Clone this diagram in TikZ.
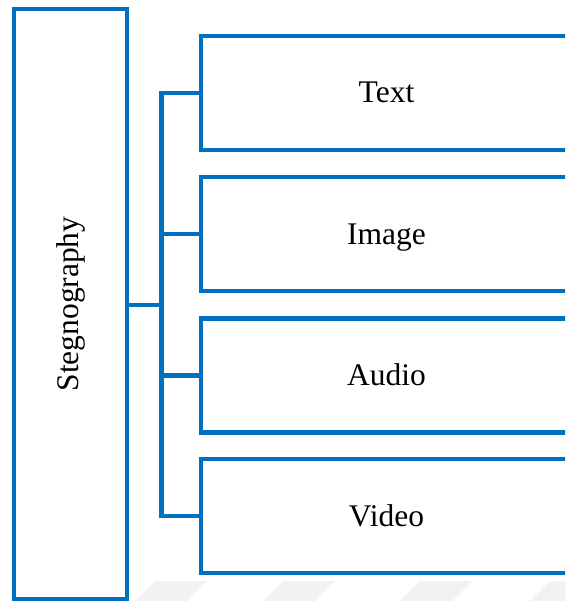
\documentclass[tikz,border=0pt]{standalone}
\usepackage{fontspec}
\setmainfont{Liberation Serif}
\definecolor{boxblue}{HTML}{0070C0}
\begin{document}
\begin{tikzpicture}[x=1pt,y=-1pt,
  frame/.style={draw=boxblue,line width=4.6pt,fill=none,inner sep=0pt,
    font=\fontsize{31.5}{36}\selectfont},
  kind/.style={frame,minimum width=371pt,minimum height=114pt,
    text height=20pt,text depth=0pt},
  link/.style={draw=boxblue,line width=4.6pt},
  stripe/.style={fill=black!5,draw=none}]
\clip (0,0) rectangle (565,601);
\fill[white] (0,0) rectangle (565,601);
% faint stripes along the bottom edge
\foreach \sx in {135,263,400,530}
  \path[stripe] (\sx,601) -- (\sx+20,581) -- (\sx+72,581) -- (\sx+52,601) -- cycle;
% main category
\node[frame,minimum width=113pt,minimum height=590pt] (steg) at (70.5,304)
  {\rotatebox{90}{Stegnography}};
% the four carrier types
\node[kind] (text)  at (386.5,93)    {Text};
\node[kind] (image) at (386.5,234)   {Image};
\node[kind] (audio) at (386.5,375.5) {Audio};
\node[kind] (video) at (386.5,516)   {Video};
% connectors
\coordinate (bus) at (164,305);
\draw[link] (steg.east |- bus) -- (bus);
\draw[link] (text.west) -- ++(-37,0) |- (video.west);
\draw[link] (image.west) -- ++(-37,0);
\draw[link] (audio.west) -- ++(-37,0);
\end{tikzpicture}
\end{document}
